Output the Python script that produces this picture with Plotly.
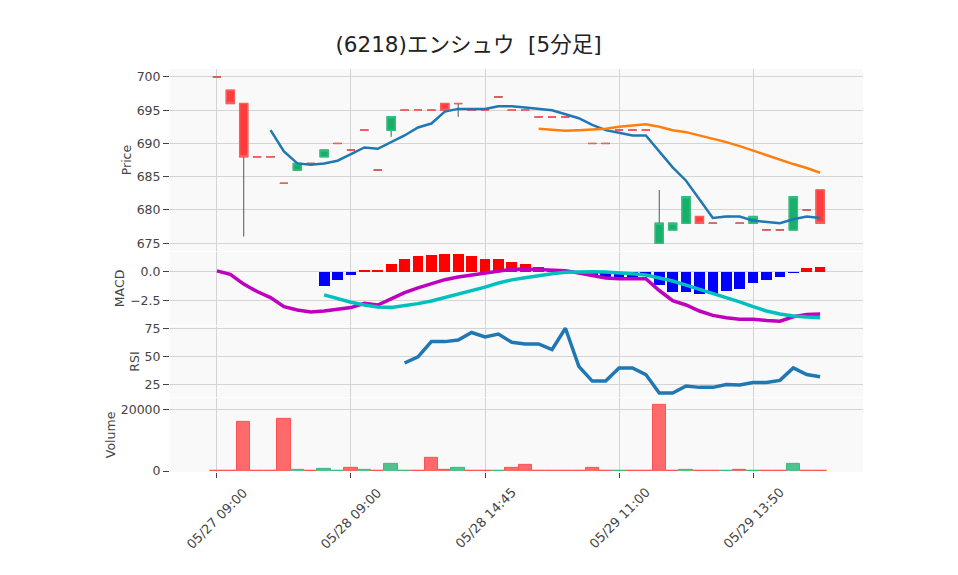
import plotly.graph_objects as go
from plotly.subplots import make_subplots

# ---------------- data ----------------
tick_pos = [0, 10, 20, 30, 40]
tick_text = ["05/27 09:00", "05/28 09:00", "05/28 14:45", "05/29 11:00", "05/29 13:50"]

opens = [700, 698, 696, 688, 688, 684, 686, 687, 688, 690, 689, 692, 686, 692, 695, 695,
         695, 696, 696, 695, 695, 697, 695, 695, 694, 694, 694, 692, 690, 690, 692, 692,
         692, 675, 677, 678, 679, 678, 679, 678, 678, 677, 677, 677, 680, 683]
highs = [700, 698, 696, 688, 688, 684, 687, 687, 689, 690, 689, 692, 686, 694, 695, 695,
         695, 696, 696, 695, 695, 697, 695, 695, 694, 694, 694, 692, 690, 690, 692, 692,
         692, 683, 678, 682, 679, 678, 679, 678, 679, 677, 677, 682, 680, 683]
lows = [700, 696, 676, 688, 688, 684, 686, 687, 688, 690, 689, 692, 686, 691, 695, 695,
        695, 695, 694, 695, 695, 697, 695, 695, 694, 694, 694, 692, 690, 690, 692, 692,
        692, 675, 677, 678, 678, 678, 679, 678, 678, 677, 677, 677, 680, 678]
closes = [700, 696, 688, 688, 688, 684, 687, 687, 689, 690, 689, 692, 686, 694, 695, 695,
          695, 695, 696, 695, 695, 697, 695, 695, 694, 694, 694, 692, 690, 690, 692, 692,
          692, 678, 678, 682, 678, 678, 679, 678, 679, 677, 677, 682, 680, 678]
volume = [0, 200, 16200, 100, 0, 17200, 400, 100, 800, 100, 1100, 400, 100, 2400, 100, 0,
          4400, 500, 1100, 100, 100, 100, 1100, 2100, 100, 100, 100, 100, 1100, 100, 100, 100,
          0, 21700, 100, 500, 100, 100, 100, 400, 100, 100, 100, 2400, 100, 100]

ma5_start = 4
ma5 = [692.0, 688.8, 687.0, 686.8, 687.0, 687.4, 688.4, 689.4, 689.2, 690.2, 691.2, 692.4,
       693.0, 694.8, 695.2, 695.2, 695.2, 695.6, 695.6, 695.4, 695.2, 695.0, 694.4, 693.8,
       692.8, 692.0, 691.6, 691.2, 691.2, 688.8, 686.4, 684.4, 681.6, 678.8, 679.0, 679.0,
       678.4, 678.2, 678.0, 678.6, 679.0, 678.8]
ma25_start = 24
ma25 = [692.2, 692.0, 691.9, 692.0, 692.1, 692.2, 692.5, 692.7, 692.9, 692.5, 692.0, 691.7,
        691.2, 690.8, 690.2, 689.6, 688.9, 688.2, 687.5, 686.9, 686.3, 685.6]

macd = [0.1, -0.2, -1.07, -1.73, -2.26, -3.07, -3.36, -3.54, -3.45, -3.27, -3.15, -2.77,
        -2.92, -2.38, -1.82, -1.40, -1.01, -0.68, -0.45, -0.27, -0.12, 0.12, 0.25, 0.27,
        0.24, 0.20, 0.12, -0.09, -0.33, -0.54, -0.60, -0.60, -0.60, -1.64, -2.53, -2.92,
        -3.45, -3.84, -4.05, -4.17, -4.17, -4.29, -4.35, -3.96, -3.75, -3.72]
sig_start = 8
signal = [-2.02, -2.38, -2.68, -2.92, -3.10, -3.13, -3.00, -2.80, -2.56, -2.26, -1.96, -1.64,
          -1.34, -0.98, -0.70, -0.51, -0.30, -0.15, -0.03, 0.03, 0.03, 0.00, -0.06, -0.15,
          -0.27, -0.51, -0.80, -1.16, -1.52, -1.90, -2.26, -2.65, -3.07, -3.45, -3.72, -3.90,
          -3.99, -4.05]
hist = [-1.28, -0.74, -0.30, 0.21, 0.20, 0.74, 1.19, 1.40, 1.49, 1.55, 1.55, 1.40, 1.19, 1.19,
        0.92, 0.71, 0.48, 0.20, 0.08, -0.12, -0.36, -0.50, -0.50, -0.45, -0.35, -1.19, -1.73,
        -1.73, -1.90, -1.90, -1.64, -1.46, -1.01, -0.74, -0.48, -0.06, 0.39, 0.48]
rsi_start = 14
rsi = [44.2, 49.7, 63.2, 63.2, 64.6, 71.3, 67.3, 69.9, 62.6, 61.1, 61.1, 56.1, 75.1, 41.2,
       28.1, 28.1, 39.8, 39.8, 33.9, 17.5, 17.5, 23.7, 22.5, 22.5, 25.1, 24.6, 26.9, 26.9,
       28.7, 39.8, 33.9, 31.9]

# ---------------- figure ----------------
n = len(closes)
x = list(range(n))
x_ma5 = x[ma5_start:]
x_ma25 = x[ma25_start:]
x_sig = x[sig_start:]
x_rsi = x[rsi_start:]

RED = "#FF3B3B"
GREEN = "#16B06A"

fig = make_subplots(rows=4, cols=1, shared_xaxes=True, vertical_spacing=0.0)

# wicks (grey)
fig.add_trace(go.Candlestick(
    x=x, open=opens, high=highs, low=lows, close=closes,
    increasing=dict(line=dict(color="#555555", width=1), fillcolor="rgba(0,0,0,0)"),
    decreasing=dict(line=dict(color="#555555", width=1), fillcolor="rgba(0,0,0,0)"),
    whiskerwidth=0, hoverinfo="skip"), row=1, col=1)

# bodies: up candles green, others red
up = [c > o for o, c in zip(opens, closes)]
b_hi = [max(o, c) for o, c in zip(opens, closes)]
b_lo = [min(o, c) for o, c in zip(opens, closes)]


def pick(vals, mask):
    return [v if m else None for v, m in zip(vals, mask)]


down = [not u for u in up]
for mask, col, lcol in [(up, GREEN, "#2FBE7E"), (down, RED, "#FF5C5C")]:
    fig.add_trace(go.Candlestick(
        x=x, open=pick(opens, mask), high=pick(b_hi, mask), low=pick(b_lo, mask),
        close=pick(closes, mask),
        increasing=dict(line=dict(color=lcol, width=1.5), fillcolor=col),
        decreasing=dict(line=dict(color=lcol, width=1.5), fillcolor=col),
        whiskerwidth=0), row=1, col=1)

fig.add_trace(go.Scatter(x=x_ma5, y=ma5, mode="lines",
                         line=dict(color="#1f77b4", width=2.5)), row=1, col=1)
fig.add_trace(go.Scatter(x=x_ma25, y=ma25, mode="lines",
                         line=dict(color="#ff7f0e", width=2.5)), row=1, col=1)

# MACD
fig.add_trace(go.Bar(x=x_sig, y=hist, width=0.8,
                     marker=dict(color=["#FF0000" if v >= 0 else "#0000FF" for v in hist],
                                 line=dict(width=0))), row=2, col=1)
fig.add_trace(go.Scatter(x=x, y=macd, mode="lines",
                         line=dict(color="#BF00BF", width=3.5)), row=2, col=1)
fig.add_trace(go.Scatter(x=x_sig, y=signal, mode="lines",
                         line=dict(color="#00BFBF", width=3.5)), row=2, col=1)

# RSI
fig.add_trace(go.Scatter(x=x_rsi, y=rsi, mode="lines",
                         line=dict(color="#1f77b4", width=3.5)), row=3, col=1)

# Volume (colour by close vs previous close)
vol_up = [i > 0 and closes[i] > closes[i - 1] for i in range(n)]
fig.add_trace(go.Bar(x=x, y=volume, width=1.0,
                     marker=dict(color=["#4DC48D" if u else "#FF6B6B" for u in vol_up],
                                 line=dict(color=["#3DBB80" if u else "#FF5252" for u in vol_up],
                                           width=1))), row=4, col=1)

tickfont = dict(family="DejaVu Sans", size=12.5, color="#444444")
titlefont = dict(family="DejaVu Sans", size=12.5, color="#444444")
GRID = "#D4D4D4"

# page body adds an 8px offset; margins compensate so the plot area matches
fig.update_layout(
    width=958, height=575,
    margin=dict(l=162, r=103, t=61, b=111),
    paper_bgcolor="white", plot_bgcolor="#F9F9F9",
    showlegend=False, bargap=0, boxgap=0.4, boxgroupgap=0.0,
    font=dict(family="DejaVu Sans", size=12, color="#444444"),
    title=dict(text="(6218)エンシュウ  [5分足]", x=0.4807, xanchor="center",
               y=0.9357, yanchor="middle",
               font=dict(family="DejaVu Sans, Noto Sans CJK JP", size=21.5, color="#222222")),
)

for i in range(1, 5):
    xa = "xaxis" if i == 1 else f"xaxis{i}"
    fig.layout[xa].update(range=[-3.5, 48.2], tickvals=tick_pos, ticktext=tick_text,
                          showgrid=True, gridcolor=GRID, gridwidth=1, zeroline=False,
                          showline=False, showticklabels=False,
                          rangeslider=dict(visible=False))
fig.layout.xaxis4.update(ticks="outside", ticklen=5, tickcolor="#444444")

# rotated date labels, centred under each tick (as in the reference)
for pos, txt in zip(tick_pos, tick_text):
    fig.add_annotation(x=pos, xref="x4", y=0, yref="paper", text=txt, showarrow=False,
                       textangle=-45, xanchor="center", yanchor="middle", yshift=-46,
                       font=dict(family="DejaVu Sans", size=13, color="#444444"))

ydefs = [
    ("yaxis", [0.548, 1.0], [673.8, 701.2], "Price", dict(tickvals=[675, 680, 685, 690, 695, 700])),
    ("yaxis2", [0.365, 0.546], [-4.68, 1.77], "MACD", dict(tickvals=[-2.5, 0.0], tickformat=".1f")),
    ("yaxis3", [0.186, 0.362], [13.9, 77.0], "RSI", dict(tickvals=[25, 50, 75])),
    ("yaxis4", [0.0, 0.184], [-300, 23900], "Volume", dict(tickvals=[0, 20000], tickformat="d")),
]
for name, dom, rng, ttl, extra in ydefs:
    fig.layout[name].update(domain=dom, range=rng, showgrid=True, gridcolor=GRID, gridwidth=1,
                            zeroline=False, ticks="outside", ticklen=6, tickcolor="#444444",
                            tickfont=tickfont,
                            title=dict(text=ttl, font=titlefont, standoff=2), **extra)

fig.write_html("out.html")
